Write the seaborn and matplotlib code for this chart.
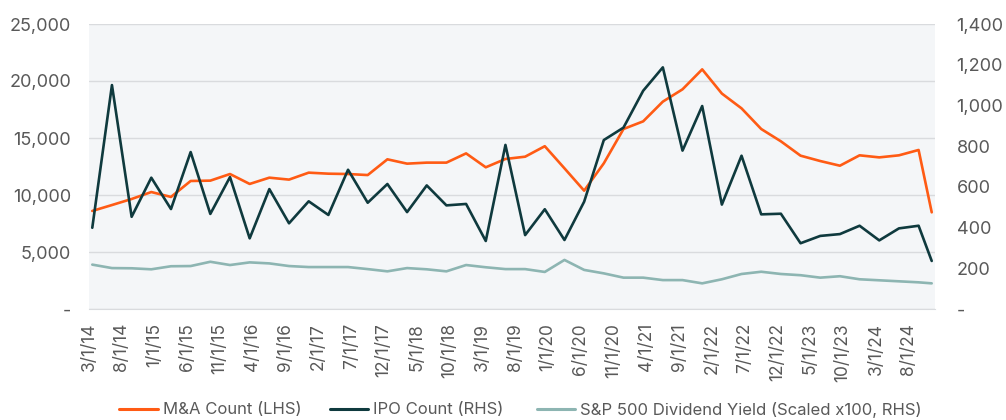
import matplotlib
matplotlib.use("Agg")
import matplotlib.pyplot as plt
import matplotlib.ticker as mticker
from matplotlib.lines import Line2D
import seaborn as sns
import pandas as pd

dates = [
    "2014-03-01", "2014-06-01", "2014-09-01", "2014-12-01",
    "2015-03-01", "2015-06-01", "2015-09-01", "2015-12-01",
    "2016-03-01", "2016-06-01", "2016-09-01", "2016-12-01",
    "2017-03-01", "2017-06-01", "2017-09-01", "2017-12-01",
    "2018-03-01", "2018-06-01", "2018-09-01", "2018-12-01",
    "2019-03-01", "2019-06-01", "2019-09-01", "2019-12-01",
    "2020-03-01", "2020-06-01", "2020-09-01", "2020-12-01",
    "2021-03-01", "2021-06-01", "2021-09-01", "2021-12-01",
    "2022-03-01", "2022-06-01", "2022-09-01", "2022-12-01",
    "2023-03-01", "2023-06-01", "2023-09-01", "2023-12-01",
    "2024-03-01", "2024-06-01", "2024-09-01", "2024-11-01",
]

ma_count = [
    8600, 9120, 9650, 10260, 9830, 11230, 11260, 11840, 10970, 11520, 11350,
    11960, 11870, 11840, 11750, 13130, 12750, 12840, 12840, 13650, 12430,
    13160, 13360, 14280, 12340, 10380, 12780, 15790, 16460, 18190, 19270,
    21020, 18900, 17600, 15790, 14710, 13450, 12980, 12570, 13480, 13300,
    13480, 13950, 8480,
]

ipo_count = [
    399, 1100, 453, 645, 491, 771, 467, 648, 347, 589, 421,
    529, 462, 684, 522, 614, 476, 607, 509, 516, 334,
    806, 363, 490, 339, 527, 830, 891, 1072, 1187, 778,
    997, 513, 753, 465, 468, 323, 359, 368, 409, 337,
    396, 409, 236,
]

div_yield_x100 = [
    218, 201, 200, 195, 210, 211, 232, 216, 229, 224, 211,
    206, 206, 206, 196, 185, 201, 195, 185, 216, 205,
    196, 196, 182, 241, 192, 175, 154, 154, 142, 142,
    126, 146, 172, 183, 172, 166, 154, 161, 146, 141,
    136, 131, 126,
]

tick_labels = [
    "3/1/14", "8/1/14", "1/1/15", "6/1/15", "11/1/15", "4/1/16", "9/1/16",
    "2/1/17", "7/1/17", "12/1/17", "5/1/18", "10/1/18", "3/1/19", "8/1/19",
    "1/1/20", "6/1/20", "11/1/20", "4/1/21", "9/1/21", "2/1/22", "7/1/22",
    "12/1/22", "5/1/23", "10/1/23", "3/1/24", "8/1/24",
]

series_names = ["M&A Count (LHS)", "IPO Count (RHS)",
                "S&P 500 Dividend Yield (Scaled x100, RHS)"]
colors = ["#FF5B14", "#0F3A3E", "#8DB5B2"]

sns.set_style("white")
plt.rcParams["font.family"] = ["Inter", "DejaVu Sans"]

dt = pd.to_datetime(pd.Series(dates))
start = dt.iloc[0]
month_idx = (dt.dt.year - start.year) * 12 + (dt.dt.month - start.month)
df = pd.DataFrame({"m": month_idx, "ma": ma_count, "ipo": ipo_count,
                   "div": div_yield_x100})

tick_dt = pd.to_datetime(pd.Series(tick_labels), format="%m/%d/%y")
tick_pos = (tick_dt.dt.year - start.year) * 12 + (tick_dt.dt.month - start.month)

W, H = 1006, 420
fig = plt.figure(figsize=(W / 100, H / 100), dpi=100)
ax = fig.add_axes([89 / W, 1 - 309 / H, (935 - 89) / W, (309 - 24) / H])
ax.set_facecolor("#F4F6F8")
ax2 = ax.twinx()

lw = 1.9
sns.lineplot(data=df, x="m", y="ma", ax=ax, color=colors[0], linewidth=lw)
sns.lineplot(data=df, x="m", y="div", ax=ax2, color=colors[2], linewidth=lw)
sns.lineplot(data=df, x="m", y="ipo", ax=ax2, color=colors[1], linewidth=lw)

ax.set_xlim(-0.5, df["m"].max() + 0.5)
ax.set_ylim(0, 25000)
ax2.set_ylim(0, 1400)
ax.set_yticks(range(0, 25001, 5000))
ax2.set_yticks(range(0, 1401, 200))

def fmt(v, _):
    return "-" if v == 0 else f"{int(v):,}"

ax.yaxis.set_major_formatter(mticker.FuncFormatter(fmt))
ax2.yaxis.set_major_formatter(mticker.FuncFormatter(fmt))

ax.set_xticks([p - 0.5 for p in tick_pos])
ax.set_xticklabels(tick_labels, rotation=90)
ax.grid(axis="y", color="#D9DBDE", linewidth=1.0)
ax.set_axisbelow(True)

for a in (ax, ax2):
    a.set_xlabel("")
    a.set_ylabel("")
    for s in a.spines.values():
        s.set_visible(False)
ax.spines["bottom"].set_visible(True)
ax.spines["bottom"].set_color("#D9DBDE")

txt = "#595959"
ax.tick_params(axis="x", length=5, color="#D9DBDE", labelcolor=txt,
               labelsize=12.5, pad=5)
ax.tick_params(axis="y", length=0, labelcolor=txt, labelsize=13, pad=13)
ax2.tick_params(axis="y", length=0, labelcolor=txt, labelsize=13, pad=15.5)

legend_x = [119.3, 330.0, 536.7]
for name, c, lx in zip(series_names, colors, legend_x):
    fig.legend([Line2D([], [], color=c, linewidth=2.2)], [name],
               loc="center left", bbox_to_anchor=(lx / W, 1 - 410 / H),
               frameon=False, fontsize=12, handlelength=2.3,
               handletextpad=0.3, borderpad=0, borderaxespad=0,
               labelcolor=txt)

fig.savefig("out.png", dpi=100)
